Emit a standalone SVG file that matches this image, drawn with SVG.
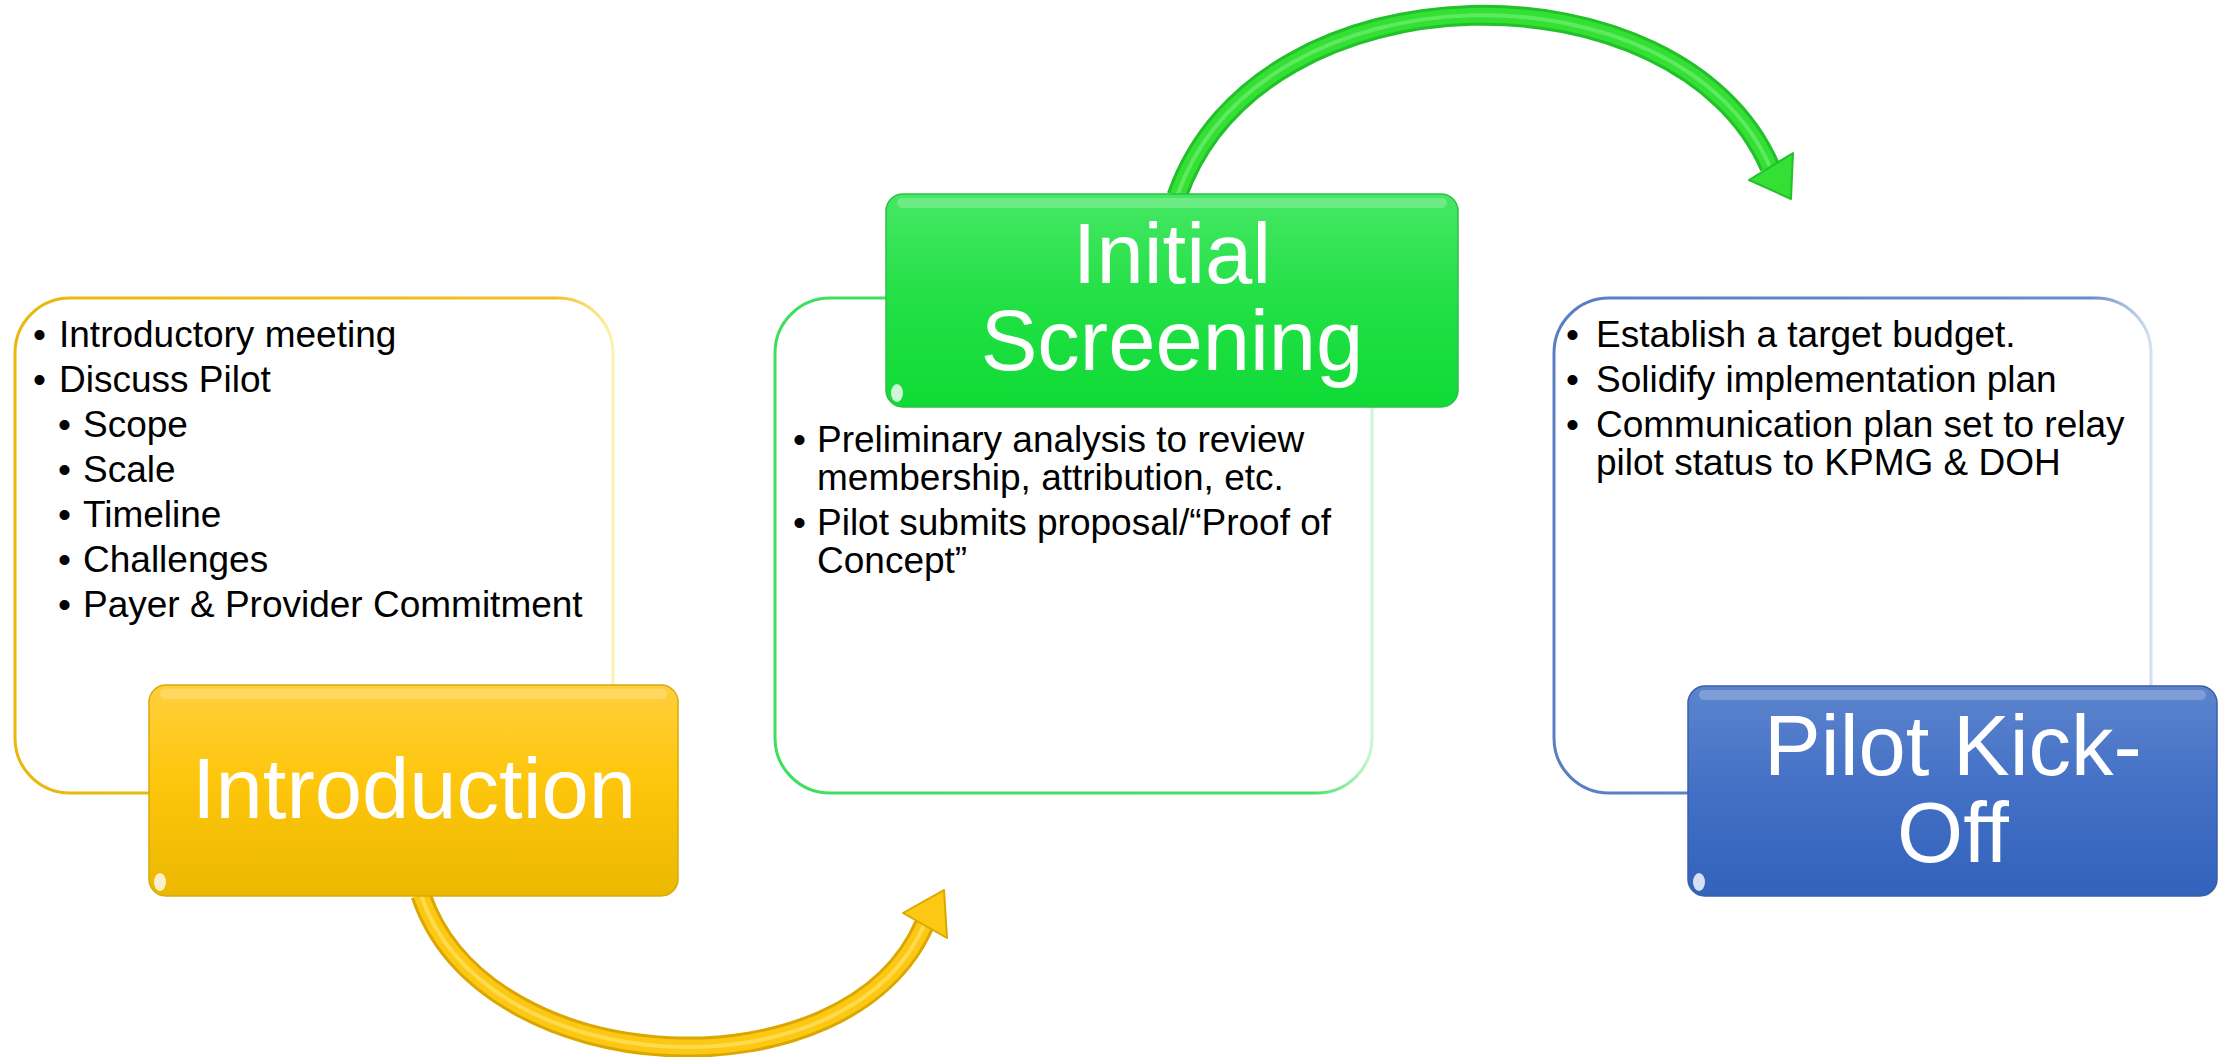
<svg xmlns="http://www.w3.org/2000/svg" width="2224" height="1057" viewBox="0 0 2224 1057">
<style>
.body{font-family:"Liberation Sans",Arial,sans-serif;font-size:37px;fill:#000}
.title{font-family:"Liberation Sans",Arial,sans-serif;font-size:85px;fill:#fff;text-anchor:middle}
.card{fill:#fff;stroke-width:3}
.hl{fill:#fff;opacity:0.22}
.shine{fill:#fff;opacity:0.8}
</style>
<defs>
<linearGradient id="gY" x1="0" y1="0" x2="0" y2="1">
<stop offset="0" stop-color="#ffcf3c"/><stop offset="0.45" stop-color="#fec60c"/><stop offset="1" stop-color="#ebb800"/>
</linearGradient>
<linearGradient id="gG" x1="0" y1="0" x2="0" y2="1">
<stop offset="0" stop-color="#46e764"/><stop offset="0.5" stop-color="#22e045"/><stop offset="1" stop-color="#0fdb36"/>
</linearGradient>
<linearGradient id="gB" x1="0" y1="0" x2="0" y2="1">
<stop offset="0" stop-color="#5c84cd"/><stop offset="0.5" stop-color="#4370c6"/><stop offset="1" stop-color="#3262bb"/>
</linearGradient>
<linearGradient id="sY" x1="0" y1="0" x2="1" y2="0">
<stop offset="0" stop-color="#e8b810"/><stop offset="0.9" stop-color="#efc020"/><stop offset="1" stop-color="#fff2b0"/>
</linearGradient>
<linearGradient id="sG" x1="0" y1="0" x2="1" y2="0">
<stop offset="0" stop-color="#3fde5e"/><stop offset="0.9" stop-color="#45e063"/><stop offset="1" stop-color="#c8f7d2"/>
</linearGradient>
<linearGradient id="sB" x1="0" y1="0" x2="1" y2="0">
<stop offset="0" stop-color="#5a7ec2"/><stop offset="0.9" stop-color="#6a8cc8"/><stop offset="1" stop-color="#d5e0f2"/>
</linearGradient>
</defs>
<rect width="2224" height="1057" fill="#fff"/>

<g id="connectors">
<g id="arrow-intro-screening">
<path d="M 421 895 C 485 1085, 850 1100, 925 923" fill="none" stroke="#dba600" stroke-width="21"/>
<path d="M 421 895 C 485 1085, 850 1100, 925 923" fill="none" stroke="#fcc814" stroke-width="15"/>
<path d="M 421 895 C 485 1085, 850 1100, 925 923" fill="none" stroke="#ffe264" stroke-width="4" opacity="0.7"/>
<polygon points="944,890 903,913 947,938" fill="#fcc814" stroke="#dba600" stroke-width="2" stroke-linejoin="round"/>
</g>
<g id="arrow-screening-kickoff">
<path d="M 1177 196 C 1260 -40, 1680 -40, 1770 167" fill="none" stroke="#22c02a" stroke-width="21"/>
<path d="M 1177 196 C 1260 -40, 1680 -40, 1770 167" fill="none" stroke="#33e033" stroke-width="15"/>
<path d="M 1177 196 C 1260 -40, 1680 -40, 1770 167" fill="none" stroke="#7cf07c" stroke-width="4" opacity="0.6"/>
<polygon points="1791,199 1749,180 1793,153" fill="#33e033" stroke="#22c02a" stroke-width="2" stroke-linejoin="round"/>
</g>
</g>

<g id="node-introduction">
<rect class="card" x="15" y="298" width="598" height="495" rx="55" ry="55" stroke="url(#sY)"/>
<text class="body" x="33" y="347">•</text><text class="body" x="59" y="347">Introductory meeting</text>
<text class="body" x="33" y="392">•</text><text class="body" x="59" y="392">Discuss Pilot</text>
<text class="body" x="58" y="437">•</text><text class="body" x="83" y="437">Scope</text>
<text class="body" x="58" y="482">•</text><text class="body" x="83" y="482">Scale</text>
<text class="body" x="58" y="527">•</text><text class="body" x="83" y="527">Timeline</text>
<text class="body" x="58" y="572">•</text><text class="body" x="83" y="572">Challenges</text>
<text class="body" x="58" y="617">•</text><text class="body" x="83" y="617">Payer &amp; Provider Commitment</text>
<rect x="149" y="685" width="529" height="211" rx="17" ry="17" fill="url(#gY)" stroke="#d8aa10" stroke-width="1.5"/>
<rect class="hl" x="160" y="689" width="507" height="10" rx="5"/>
<ellipse class="shine" cx="160" cy="882" rx="6" ry="9"/>
<text class="title" x="414" y="818">Introduction</text>
</g>

<g id="node-initial-screening">
<rect class="card" x="775" y="298" width="597" height="495" rx="55" ry="55" stroke="url(#sG)"/>
<text class="body" x="793" y="452">•</text><text class="body" x="817" y="452">Preliminary analysis to review</text>
<text class="body" x="817" y="490">membership, attribution, etc.</text>
<text class="body" x="793" y="535">•</text><text class="body" x="817" y="535">Pilot submits proposal/“Proof of</text>
<text class="body" x="817" y="573">Concept”</text>
<rect x="886" y="194" width="572" height="213" rx="17" ry="17" fill="url(#gG)" stroke="#2cc048" stroke-width="1.5"/>
<rect class="hl" x="897" y="198" width="550" height="10" rx="5"/>
<ellipse class="shine" cx="897" cy="393" rx="6" ry="9"/>
<text class="title" x="1172" y="283">Initial</text>
<text class="title" x="1172" y="370">Screening</text>
</g>

<g id="node-pilot-kickoff">
<rect class="card" x="1554" y="298" width="597" height="495" rx="55" ry="55" stroke="url(#sB)"/>
<text class="body" x="1566" y="347">•</text><text class="body" x="1596" y="347">Establish a target budget.</text>
<text class="body" x="1566" y="392">•</text><text class="body" x="1596" y="392">Solidify implementation plan</text>
<text class="body" x="1566" y="437">•</text><text class="body" x="1596" y="437">Communication plan set to relay</text>
<text class="body" x="1596" y="475">pilot status to KPMG &amp; DOH</text>
<rect x="1688" y="686" width="529" height="210" rx="17" ry="17" fill="url(#gB)" stroke="#3a5fa8" stroke-width="1.5"/>
<rect class="hl" x="1699" y="690" width="507" height="10" rx="5"/>
<ellipse class="shine" cx="1699" cy="882" rx="6" ry="9"/>
<text class="title" x="1953" y="775">Pilot Kick-</text>
<text class="title" x="1953" y="862">Off</text>
</g>
</svg>
